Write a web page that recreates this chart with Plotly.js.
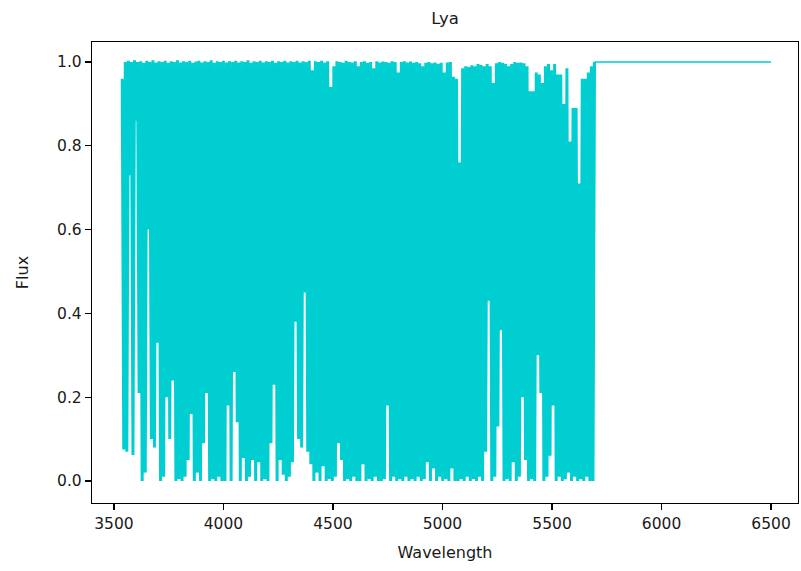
<!DOCTYPE html>
<html>
<head>
<meta charset="utf-8">
<script src="https://cdn.plot.ly/plotly-3.0.1.min.js"></script>
<style>
  html, body { margin: 0; padding: 0; background: #ffffff; }
  #chart { width: 801px; height: 571px; }
</style>
</head>
<body>
<div id="chart"></div>
<script>
// Lyman-alpha forest spectrum
const WAVE_START = 3538;   // Angstrom, first sample
const WAVE_STEP = 7;       // Angstrom between samples

const fluxForest = [
  0.96, 0.075, 1.0, 0.07, 1.003, 0.73, 1.0, 0.062, 1.004, 0.86,
  1.0, 0.21, 1.002, 0.0, 0.998, 0.02, 1.003, 0.6, 1.0, 0.1,
  1.004, 0.08, 0.999, 0.33, 1.002, 0.0, 1.0, 0.01, 1.003, 0.2,
  0.998, 0.1, 1.002, 0.24, 1.0, 0.0, 1.004, 0.005, 0.999, 0.0,
  1.002, 0.01, 1.0, 0.05, 1.003, 0.16, 0.998, 0.0, 1.001, 0.02,
  1.003, 0.0, 0.999, 0.09, 1.002, 0.21, 1.0, 0.0, 1.004, 0.005,
  0.998, 0.0, 1.002, 0.01, 1.0, 0.0, 1.003, 0.0, 0.999, 0.18,
  1.002, 0.0, 1.0, 0.26, 1.003, 0.14, 0.999, 0.0, 1.002, 0.055,
  1.0, 0.0, 1.004, 0.01, 0.998, 0.05, 1.002, 0.0, 1.0, 0.045,
  1.003, 0.0, 0.999, 0.005, 1.002, 0.0, 1.0, 0.09, 1.003, 0.23,
  0.998, 0.0, 1.002, 0.05, 1.0, 0.015, 1.003, 0.0, 0.999, 0.01,
  1.002, 0.045, 1.0, 0.38, 1.003, 0.1, 0.999, 0.08, 1.002, 0.45,
  1.0, 0.07, 1.003, 0.04, 0.98, 0.0, 1.002, 0.02, 1.0, 0.0,
  1.003, 0.035, 0.999, 0.0, 1.002, 0.005, 0.94, 0.0, 0.99, 0.01,
  1.002, 0.09, 1.0, 0.05, 0.998, 0.0, 1.003, 0.005, 1.0, 0.0,
  0.999, 0.01, 1.002, 0.0, 0.99, 0.0, 1.0, 0.04, 1.002, 0.0,
  0.998, 0.005, 1.0, 0.0, 0.985, 0.01, 1.002, 0.0, 0.999, 0.0,
  1.001, 0.005, 1.0, 0.18, 0.998, 0.0, 1.002, 0.01, 1.0, 0.0,
  0.975, 0.005, 1.0, 0.0, 1.002, 0.01, 0.999, 0.0, 1.001, 0.005,
  0.998, 0.0, 1.0, 0.01, 0.997, 0.0, 0.99, 0.005, 0.998, 0.045,
  1.0, 0.0, 0.997, 0.03, 0.999, 0.0, 0.996, 0.01, 0.998, 0.0,
  0.975, 0.005, 0.999, 0.0, 1.0, 0.03, 0.965, 0.0, 0.96, 0.0,
  0.76, 0.005, 0.985, 0.0, 0.99, 0.01, 0.988, 0.0, 0.992, 0.005,
  0.99, 0.0, 0.995, 0.01, 0.993, 0.0, 0.99, 0.07, 0.995, 0.43,
  0.99, 0.0, 0.95, 0.01, 0.997, 0.13, 1.0, 0.36, 0.998, 0.0,
  0.996, 0.005, 0.99, 0.0, 0.995, 0.045, 1.0, 0.0, 0.998, 0.01,
  0.999, 0.2, 0.997, 0.05, 0.99, 0.0, 0.93, 0.005, 0.93, 0.0,
  0.975, 0.3, 0.97, 0.21, 0.95, 0.0, 0.99, 0.01, 0.995, 0.06,
  0.98, 0.18, 0.995, 0.0, 0.97, 0.01, 0.97, 0.0, 0.9, 0.005,
  0.985, 0.02, 0.81, 0.0, 0.89, 0.01, 0.89, 0.0, 0.71, 0.005,
  0.96, 0.0, 0.96, 0.01, 0.975, 0.0, 0.99, 0.0, 1.0
];

// Unabsorbed continuum red-ward of Lyman-alpha
const waveContinuum = [5694, 6500];
const fluxContinuum = [1.0, 1.0];

const xTicks = [3500, 4000, 4500, 5000, 5500, 6000, 6500];
const yTicks = [0.0, 0.2, 0.4, 0.6, 0.8, 1.0];
const yTickText = ['0.0', '0.2', '0.4', '0.6', '0.8', '1.0'];

const LINE_COLOR = '#00CED1';
const FONT = 'DejaVu Sans, sans-serif';

const traces = [
  {
    type: 'scatter', mode: 'lines',
    x0: WAVE_START, dx: WAVE_STEP, y: fluxForest,
    line: { color: LINE_COLOR, width: 3 },
    hoverinfo: 'x+y', showlegend: false
  },
  {
    type: 'scatter', mode: 'lines',
    x: waveContinuum, y: fluxContinuum,
    line: { color: LINE_COLOR, width: 1.6 },
    hoverinfo: 'x+y', showlegend: false
  }
];

const axisCommon = {
  showline: true, mirror: true, linecolor: '#000000', linewidth: 1.2,
  ticks: 'outside', ticklen: 6, tickwidth: 1.2, tickcolor: '#000000',
  showgrid: false, zeroline: false,
  tickfont: { family: FONT, size: 15.5, color: '#1a1a1a' }
};

const layout = {
  width: 801, height: 571,
  margin: { l: 92, r: 3, t: 42, b: 68, pad: 0 },
  paper_bgcolor: '#ffffff', plot_bgcolor: '#ffffff',
  title: {
    text: 'Lya', font: { family: FONT, size: 16.5, color: '#1a1a1a' },
    x: 0.5, xref: 'paper', xanchor: 'center', y: 1 - 18 / 571, yanchor: 'middle'
  },
  xaxis: Object.assign({}, axisCommon, {
    range: [3400, 6623], tickvals: xTicks,
    title: { text: 'Wavelength', font: { family: FONT, size: 16, color: '#1a1a1a' }, standoff: 15 }
  }),
  yaxis: Object.assign({}, axisCommon, {
    range: [-0.0525, 1.0477], tickvals: yTicks, ticktext: yTickText,
    title: { text: 'Flux', font: { family: FONT, size: 16, color: '#1a1a1a' }, standoff: 24 }
  })
};

Plotly.newPlot('chart', traces, layout, { displayModeBar: false, staticPlot: true });
</script>
</body>
</html>
